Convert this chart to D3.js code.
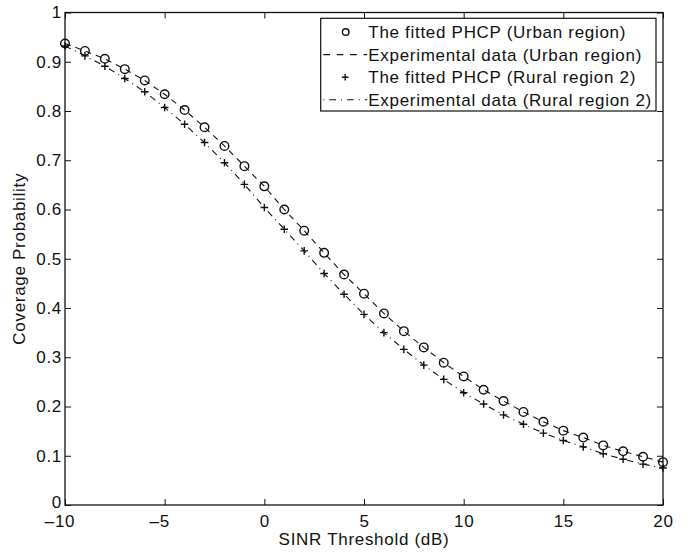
<!DOCTYPE html>
<meta charset="utf-8">
<script src="https://d3js.org/d3.v7.min.js"></script>
<style>
  body { margin: 0; background: #fff; }
  text { font-family: "Liberation Sans", Arial, sans-serif; fill: #111; letter-spacing: 0.7px; }
</style>
<div id="my_dataviz"></div>
<script>

// SINR threshold values (dB)
const sinr = d3.range(-10, 21, 1);

// coverage probability
const urbanFit = [0.937, 0.922, 0.906, 0.885, 0.862, 0.834, 0.802, 0.767, 0.729, 0.688,
  0.647, 0.600, 0.557, 0.512, 0.468, 0.429, 0.389, 0.353, 0.320, 0.289,
  0.261, 0.234, 0.211, 0.189, 0.169, 0.151, 0.137, 0.121, 0.109, 0.098, 0.087];
const urbanExp = urbanFit.slice();
const ruralFit = [0.932, 0.912, 0.891, 0.866, 0.839, 0.807, 0.773, 0.736, 0.695, 0.651,
  0.604, 0.560, 0.516, 0.470, 0.428, 0.387, 0.350, 0.316, 0.284, 0.255,
  0.228, 0.205, 0.183, 0.164, 0.146, 0.131, 0.118, 0.104, 0.093, 0.083, 0.075];
const ruralExp = ruralFit.slice();

const xTicks = [-10, -5, 0, 5, 10, 15, 20];
const yTicks = [0, 0.1, 0.2, 0.3, 0.4, 0.5, 0.6, 0.7, 0.8, 0.9, 1];
const legendLabels = ["The fitted PHCP (Urban region)", "Experimental data (Urban region)",
  "The fitted PHCP (Rural region 2)", "Experimental data (Rural region 2)"];

const W = 699, H = 555;
const margin = {top: 12.5, right: 36, bottom: 50, left: 65};
const width = W - margin.left - margin.right;
const height = H - margin.top - margin.bottom;

const svg = d3.select("#my_dataviz")
  .append("svg")
    .attr("width", W)
    .attr("height", H)
  .append("g")
    .attr("transform", "translate(" + margin.left + "," + margin.top + ")");

const x = d3.scaleLinear().domain([-10, 20]).range([0, width]);
const y = d3.scaleLinear().domain([0, 1]).range([height, 0]);

const fmtX = d => d < 0 ? "\u2013" + Math.abs(d) : String(d);
const fmtY = d => d === 0 || d === 1 ? String(d) : d3.format(".1f")(d);

const dashed = "6,5";
const dashDot = "6.5,4.5,1,4.5";

// axes with inward ticks, MATLAB style box
function styleAxis(g) {
  g.select(".domain").remove();
  g.selectAll("line").attr("stroke", "#111").attr("stroke-width", 1);
  g.selectAll("text").style("font-size", "17px").attr("fill", "#111");
}
svg.append("g").attr("transform", "translate(0," + height + ")")
  .call(d3.axisBottom(x).tickValues(xTicks).tickSizeInner(-6).tickSizeOuter(0).tickPadding(9.8).tickFormat(fmtX))
  .call(styleAxis)
  .call(g => g.selectAll(".tick").filter(d => d < 0).select("text").attr("dx", "-5.5"));
svg.append("g")
  .call(d3.axisTop(x).tickValues(xTicks).tickSizeInner(-6).tickSizeOuter(0).tickFormat(""))
  .call(styleAxis);
svg.append("g")
  .call(d3.axisLeft(y).tickValues(yTicks).tickSizeInner(-6).tickSizeOuter(0).tickPadding(3).tickFormat(fmtY))
  .call(styleAxis)
  // the "0" sits just above the "-10" label
  .call(g => g.selectAll(".tick").filter(d => d === 0).select("text").attr("y", -2.5));
svg.append("g").attr("transform", "translate(" + width + ",0)")
  .call(d3.axisRight(y).tickValues(yTicks).tickSizeInner(-6).tickSizeOuter(0).tickFormat(""))
  .call(styleAxis);

svg.append("rect")
  .attr("width", width).attr("height", height)
  .attr("fill", "none").attr("stroke", "#111").attr("stroke-width", 1.3);

// lines
const line = d3.line().x((d, i) => x(sinr[i])).y(d => y(d));
svg.append("path").datum(urbanExp).attr("d", line)
  .attr("fill", "none").attr("stroke", "#111").attr("stroke-width", 1.1)
  .attr("stroke-dasharray", dashed);
svg.append("path").datum(ruralExp).attr("d", line)
  .attr("fill", "none").attr("stroke", "#111").attr("stroke-width", 1.1)
  .attr("stroke-dasharray", dashDot);

// markers
svg.selectAll("circle.urban").data(urbanFit).enter().append("circle")
  .attr("class", "urban")
  .attr("cx", (d, i) => x(sinr[i])).attr("cy", d => y(d)).attr("r", 4.3)
  .attr("fill", "none").attr("stroke", "#111").attr("stroke-width", 1.4);

svg.selectAll("path.rural").data(ruralFit).enter().append("path")
  .attr("class", "rural")
  .attr("transform", (d, i) => "translate(" + x(sinr[i]) + "," + y(d) + ")")
  .attr("d", "M-3.8,0H3.8M0,-3.8V3.8")
  .attr("fill", "none").attr("stroke", "#111").attr("stroke-width", 1.4);

// axis titles
svg.append("text")
  .attr("x", width / 2).attr("y", height + 40)
  .attr("text-anchor", "middle").style("font-size", "17px")
  .text("SINR Threshold (dB)");
svg.append("text")
  .attr("transform", "translate(-40," + height / 2 + ") rotate(-90)")
  .attr("text-anchor", "middle").style("font-size", "17px")
  .text("Coverage Probability");

// legend
const lg = svg.append("g").attr("transform", "translate(" + (320.7 - margin.left) + "," + (18.3 - margin.top) + ")");
lg.append("rect").attr("width", 335.3).attr("height", 92.7)
  .attr("fill", "#fff").attr("stroke", "#111").attr("stroke-width", 1.2);
legendLabels.forEach(function (lab, i) {
  const cy = 13.7 + i * 22.6;
  const row = lg.append("g");
  if (i === 0) {
    row.append("circle").attr("cx", 25).attr("cy", cy).attr("r", 3.3)
      .attr("fill", "none").attr("stroke", "#111").attr("stroke-width", 1.4);
  } else if (i === 2) {
    row.append("path").attr("transform", "translate(24.5," + cy + ")")
      .attr("d", "M-3.3,0H3.3M0,-3.3V3.3").attr("stroke", "#111").attr("stroke-width", 1.4);
  } else {
    row.append("line").attr("x1", 2.6).attr("x2", 46.5).attr("y1", cy).attr("y2", cy)
      .attr("stroke", "#111").attr("stroke-width", 1.1)
      .attr("stroke-dasharray", i === 1 ? "6.7,6.7" : "1,5,6.7,5");
  }
  row.append("text").attr("x", 47.6).attr("y", cy).attr("dy", "0.36em")
    .style("font-size", "17px").text(lab);
});
</script>
